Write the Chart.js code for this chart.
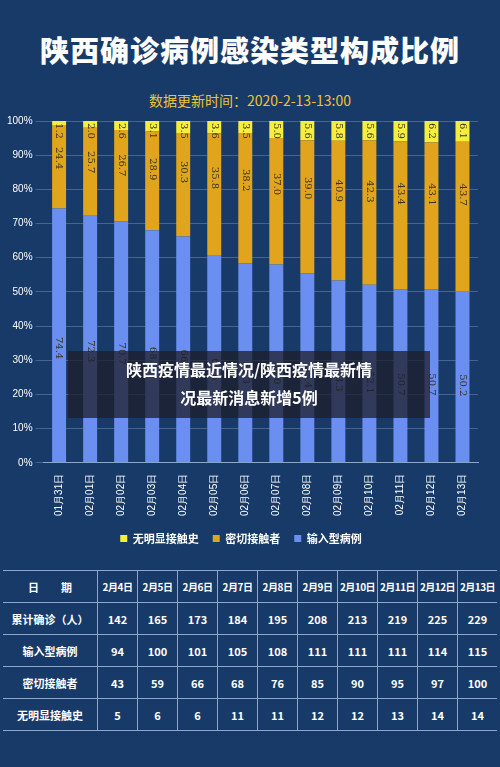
<!DOCTYPE html>
<html>
<head>
<meta charset="utf-8">
<script src="https://cdn.jsdelivr.net/npm/chart.js"></script>
<style>
  body { margin:0; width:500px; height:767px; background:#173a68; font-family:"Noto Sans CJK SC","Noto Sans",sans-serif; position:relative; overflow:hidden; }
  h1 { position:absolute; top:28px; left:0; width:500px; margin:0; text-align:center; color:#fff; font-size:29px; font-weight:900; letter-spacing:1px; }
  .sub { position:absolute; top:90px; left:0; width:500px; text-align:center; color:#f2c232; font-size:14px; }
  #wrap { position:absolute; top:112px; left:0; width:500px; height:442px; }
  table { position:absolute; top:570px; left:3px; border-collapse:collapse; color:#fff; font-size:11px; font-weight:bold; table-layout:fixed; }
  td { border-top:1px solid #8fa6c8; border-bottom:1px solid #8fa6c8; border-left:1px solid #8fa6c8; height:31px; text-align:center; padding:0; width:39px; white-space:nowrap; overflow:hidden; }
  tr:first-child td { font-size:10px; letter-spacing:-0.5px; }
  tr:first-child td:first-child { font-size:11px; letter-spacing:0; }
  td:first-child { width:94px; border-left:none; }
  .cap { position:absolute; top:351px; left:68px; width:362px; height:63px; background:rgba(30,30,40,0.75); color:#fff; font-size:16px; font-weight:bold; text-align:center; line-height:28px; padding-top:4px; }
</style>
</head>
<body>
<h1>陕西确诊病例感染类型构成比例</h1>
<div class="sub">数据更新时间：2020-2-13-13:00</div>
<div id="wrap"><canvas id="c"></canvas></div>
<table id="t"></table>
<div class="cap">陕西疫情最近情况/陕西疫情最新情<br>况最新消息新增5例</div>
<script>
const days = ['01月31日','02月01日','02月02日','02月03日','02月04日','02月05日','02月06日','02月07日','02月08日','02月09日','02月10日','02月11日','02月12日','02月13日'];
const unknown = [1.2, 2.0, 2.6, 3.1, 3.5, 3.6, 3.5, 5.0, 5.6, 5.8, 5.6, 5.9, 6.2, 6.1];
const contact = [24.4, 25.7, 26.7, 28.9, 30.3, 35.8, 38.2, 37.0, 39.0, 40.9, 42.3, 43.4, 43.1, 43.7];
const imported = [74.4, 72.3, 70.7, 68.0, 66.2, 60.6, 58.3, 58.0, 55.4, 53.3, 52.1, 50.7, 50.7, 50.2];

const tableDates = ['2月4日','2月5日','2月6日','2月7日','2月8日','2月9日','2月10日','2月11日','2月12日','2月13日'];
const totalCases = [142, 165, 173, 184, 195, 208, 213, 219, 225, 229];
const importedCases = [94, 100, 101, 105, 108, 111, 111, 111, 114, 115];
const contactCases = [43, 59, 66, 68, 76, 85, 90, 95, 97, 100];
const unknownCases = [5, 6, 6, 11, 11, 12, 12, 13, 14, 14];

const rows = [['日　　期', tableDates], ['累计确诊（人）', totalCases], ['输入型病例', importedCases], ['密切接触者', contactCases], ['无明显接触史', unknownCases]];
document.getElementById('t').innerHTML = rows.map(r => '<tr><td>' + r[0] + '</td>' + r[1].map(v => '<td>' + v + '</td>').join('') + '</tr>').join('');

const barLabels = {
  id: 'barLabels',
  afterDatasetsDraw(chart) {
    const ctx = chart.ctx;
    ctx.save();
    ctx.fillStyle = '#3a3320';
    ctx.font = '10px "DejaVu Serif", serif';
    ctx.textAlign = 'center';
    ctx.textBaseline = 'middle';
    chart.data.datasets.forEach((ds, di) => {
      chart.getDatasetMeta(di).data.forEach((bar, i) => {
        const top = Math.min(bar.y, bar.base), bot = Math.max(bar.y, bar.base);
        let y;
        if (di === 0) y = top + (bot - top) * 0.55;
        else if (di === 1) y = top + 8 + (bot - top) * 0.3;
        else y = top + 10;
        ctx.save();
        ctx.translate(bar.x, y);
        ctx.rotate(Math.PI / 2);
        ctx.fillText(ds.data[i].toFixed(1), 0, 0);
        ctx.restore();
      });
    });
    ctx.restore();
  }
};

new Chart(document.getElementById('c'), {
  type: 'bar',
  data: {
    labels: days,
    datasets: [
      { label: '输入型病例', data: imported, backgroundColor: '#6b8ff0' },
      { label: '密切接触者', data: contact, backgroundColor: '#e0a51c' },
      { label: '无明显接触史', data: unknown, backgroundColor: '#f5ef3c' }
    ]
  },
  options: {
    responsive: true, maintainAspectRatio: false, animation: false,
    layout: { padding: { right: 22, left: 4 } },
    datasets: { bar: { barPercentage: 0.45, categoryPercentage: 1 } },
    plugins: {
      legend: {
        position: 'bottom', reverse: true,
        labels: { color: '#fff', boxWidth: 7, boxHeight: 7, font: { size: 11, weight: 'bold', family: '"Noto Sans CJK SC"' }, padding: 14 }
      },
      tooltip: { enabled: false }
    },
    scales: {
      x: { stacked: true, grid: { display: false }, border: { color: '#8fa6c8' },
           ticks: { color: '#fff', maxRotation: 90, minRotation: 90, font: { size: 10 } } },
      y: { stacked: true, min: 0, max: 100, border: { display: false },
           grid: { color: 'rgba(160,180,210,0.35)' },
           ticks: { stepSize: 10, color: '#fff', font: { size: 10 }, callback: v => v + '%' } }
    }
  },
  plugins: [barLabels]
});
</script>
</body>
</html>
